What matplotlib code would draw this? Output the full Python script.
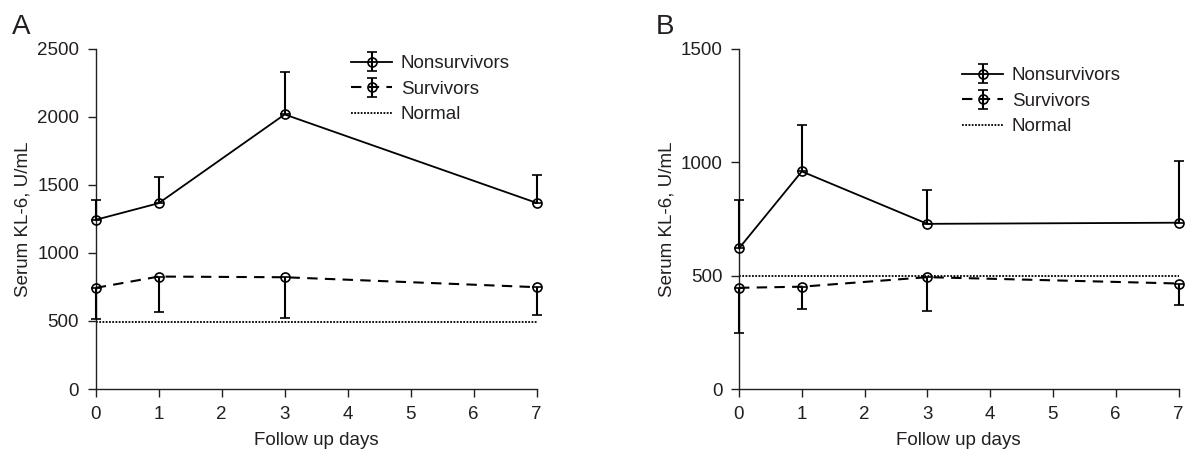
import matplotlib
matplotlib.use('Agg')
import matplotlib.pyplot as plt

plt.rcParams['font.family'] = ['Liberation Sans', 'DejaVu Sans']
plt.rcParams['text.color'] = '#231f20'
plt.rcParams['axes.labelcolor'] = '#231f20'
plt.rcParams['xtick.color'] = '#231f20'
plt.rcParams['ytick.color'] = '#231f20'

# Дни наблюдения
days = [0, 1, 3, 7]

# Панель A
a_non_mean = [1243, 1365, 2017, 1367]
a_non_up = [147, 191, 311, 202]
a_surv_mean = [743, 826, 821, 748]
a_surv_down = [228, 262, 299, 201]
a_normal = 490

# Панель B
b_non_mean = [620, 959, 728, 733]
b_non_up = [211, 204, 151, 273]
b_surv_mean = [446, 451, 493, 465]
b_surv_down = [200, 98, 147, 93]
b_normal = 500

W, H = 1186, 450


def draw_panel(ax, non_mean, non_up, surv_mean, surv_down, normal, ymax, leg_xy):
    h1 = ax.errorbar(days, non_mean, yerr=[[0] * 4, non_up], color='black', lw=1.3,
                     ls='-', marker='o', ms=6.5, mfc='none', mec='black', mew=1.2,
                     elinewidth=1.5, capsize=3.3, capthick=1.5, clip_on=False,
                     label='Nonsurvivors', zorder=3)
    h2 = ax.errorbar(days, surv_mean, yerr=[surv_down, [0] * 4], color='black', lw=1.5,
                     ls=(0, (5, 3.5)), marker='o', ms=6.5, mfc='none', mec='black', mew=1.2,
                     elinewidth=1.5, capsize=3.3, capthick=1.5, clip_on=False,
                     label='Survivors', zorder=3)
    h3, = ax.plot([0, 7], [normal, normal], color='black', lw=1.3, ls=(0, (1, 0.8)),
                  label='Normal', zorder=2)

    ax.set_xlim(0, 7)
    ax.set_ylim(0, ymax)
    ax.set_xticks(range(8))
    ax.set_yticks(range(0, ymax + 1, 500))
    for s in ['top', 'right']:
        ax.spines[s].set_visible(False)
    for s in ['left', 'bottom']:
        ax.spines[s].set_linewidth(1.0)
        ax.spines[s].set_color('#231f20')
    ax.tick_params(labelsize=13.5, length=6, width=1.0, pad=6)
    ax.set_xlabel('Follow up days', fontsize=13.5)
    ax.set_ylabel('Serum KL-6, U/mL', fontsize=13.5)
    ax.xaxis.set_label_coords(0.5, -0.125)
    ax.yaxis.set_label_coords(-0.145, 0.5)

    ax.legend([h1, h2, h3], ['Nonsurvivors', 'Survivors', 'Normal'],
              loc='upper left', bbox_to_anchor=(leg_xy[0] / W, 1 - leg_xy[1] / H),
              bbox_transform=fig.transFigure, frameon=False, fontsize=13.5,
              borderpad=0, borderaxespad=0, handlelength=2.2, handletextpad=0.45,
              labelspacing=0.45)


fig = plt.figure(figsize=(W / 100, H / 100), dpi=100)
ax1 = fig.add_axes([95.7 / W, 61 / H, 441 / W, 340.3 / H])
ax2 = fig.add_axes([739 / W, 61 / H, 439.5 / W, 340.3 / H])

draw_panel(ax1, a_non_mean, a_non_up, a_surv_mean, a_surv_down, a_normal, 2500, (351, 55))
draw_panel(ax2, b_non_mean, b_non_up, b_surv_mean, b_surv_down, b_normal, 1500, (962, 67))

fig.text(12 / W, 1 - 34 / H, 'A', fontsize=20, va='baseline')
fig.text(656 / W, 1 - 34 / H, 'B', fontsize=20, va='baseline')

fig.savefig('out.png', dpi=100)
